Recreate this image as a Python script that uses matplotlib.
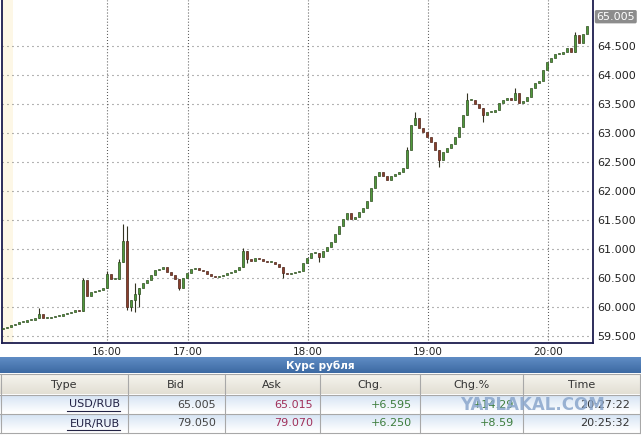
import numpy as np
import matplotlib
matplotlib.use("Agg")
import matplotlib.pyplot as plt

plt.rcParams['lines.scale_dashes'] = False

# USD/RUB closes, one candle per bar slot (open = previous close)
closes = [59.638, 59.655, 59.690, 59.707, 59.741, 59.741, 59.776, 59.776, 59.810, 59.879,
          59.810, 59.810, 59.828, 59.845, 59.845, 59.879, 59.897, 59.914, 59.948, 59.931,
          60.466, 60.190, 60.259, 60.276, 60.293, 60.328, 60.569, 60.483, 60.483, 60.776,
          61.138, 60.000, 60.121, 60.224, 60.328, 60.414, 60.466, 60.552, 60.638, 60.655,
          60.690, 60.603, 60.552, 60.483, 60.328, 60.500, 60.586, 60.655, 60.672, 60.638,
          60.621, 60.569, 60.534, 60.517, 60.534, 60.552, 60.586, 60.603, 60.638, 60.690,
          60.966, 60.828, 60.793, 60.845, 60.828, 60.793, 60.776, 60.776, 60.741, 60.690,
          60.586, 60.569, 60.586, 60.603, 60.621, 60.759, 60.845, 60.931, 60.931, 60.862,
          60.966, 61.034, 61.121, 61.259, 61.397, 61.517, 61.621, 61.517, 61.552, 61.638,
          61.707, 61.828, 62.052, 62.259, 62.328, 62.259, 62.190, 62.259, 62.293, 62.328,
          62.397, 62.707, 63.138, 63.259, 63.086, 63.017, 62.931, 62.845, 62.707, 62.534,
          62.672, 62.741, 62.810, 62.931, 63.103, 63.310, 63.569, 63.569, 63.500, 63.431,
          63.310, 63.362, 63.362, 63.397, 63.517, 63.569, 63.603, 63.569, 63.690, 63.517,
          63.552, 63.621, 63.776, 63.862, 63.897, 64.086, 64.224, 64.293, 64.362, 64.362,
          64.397, 64.466, 64.397, 64.690, 64.552, 64.707, 64.845]
first_open = 59.620

# visible long wicks (bar index -> price)
wick_high = {9: 59.983, 20: 60.500, 26: 60.621, 29: 60.830, 30: 61.431, 31: 61.397,
             33: 60.420, 60: 61.017, 69: 60.740, 101: 62.760, 103: 63.362, 116: 63.690,
             128: 63.776, 143: 64.741}
wick_low = {31: 59.948, 32: 59.930, 33: 59.914, 34: 60.000, 44: 60.300, 61: 60.760,
            70: 60.500, 79: 60.776, 109: 62.414, 120: 63.190}

y_ticks = [59.5, 60.0, 60.5, 61.0, 61.5, 62.0, 62.5, 63.0, 63.5, 64.0, 64.5]
x_tick_labels = ['16:00', '17:00', '18:00', '19:00', '20:00']
x_tick_pos = [26, 46.25, 76.25, 106.25, 136.25]
last_price = 65.005

columns = ['Type', 'Bid', 'Ask', 'Chg.', 'Chg.%', 'Time']
pairs = ['USD/RUB', 'EUR/RUB']
bids = ['65.005', '79.050']
asks = ['65.015', '79.070']
chg = ['+6.595', '+6.250']
chg_pct = ['+14.29', '+8.59']
times = ['20:27:22', '20:25:32']

fig = plt.figure(figsize=(6.41, 4.37), dpi=100)
fig.patch.set_facecolor('white')

# chart
ax = fig.add_axes([2/641, 94/437, 591/641, 343/437])
ax.set_xlim(-0.25, 147.5)
ax.set_ylim(59.379, 65.293)
ax.axvspan(-0.25, 2.5, color='#fdf7e6', zorder=0, lw=0)

for y in y_ticks:
    ax.axhline(y, color='#666666', lw=0.8, ls=(0, (0.7, 2.9)), zorder=1)
for xp in x_tick_pos:
    ax.axvline(xp, color='#555555', lw=0.8, ls=(0, (0.7, 1.5)), zorder=1)

opens = [first_open] + closes[:-1]
for i, (o, c) in enumerate(zip(opens, closes)):
    up = c >= o
    face = '#4f9a3c' if up else '#8a3f2c'
    edge = '#2c4a1c' if up else '#4a2216'
    hi = wick_high.get(i, max(o, c))
    lo = wick_low.get(i, min(o, c))
    if hi > max(o, c) or lo < min(o, c):
        ax.vlines(i, lo, hi, color='#333322', lw=0.8, zorder=2)
    bottom = min(o, c)
    h = max(abs(c - o), 0.012)
    ax.bar(i, h, bottom=bottom, width=0.62, color=face, edgecolor=edge,
           linewidth=0.5, zorder=3)

for side in ['left', 'bottom', 'right']:
    ax.spines[side].set_color('#1c1c4e')
    ax.spines[side].set_linewidth(1.3)
ax.spines['top'].set_visible(False)

ax.yaxis.tick_right()
ax.set_yticks(y_ticks)
ax.set_yticklabels(['%.3f' % v for v in y_ticks])
ax.set_xticks(x_tick_pos)
ax.set_xticklabels(x_tick_labels)
ax.tick_params(axis='y', length=0, pad=3, labelsize=8, labelcolor='#222222')
ax.tick_params(axis='x', length=0, pad=3, labelsize=7.5, labelcolor='#222222')

# last price marker
ax.annotate('%.3f' % last_price, xy=(147.5, last_price), xycoords='data',
            xytext=(2.5, 0), textcoords='offset points', ha='left', va='center',
            fontsize=8, color='white', annotation_clip=False,
            bbox=dict(boxstyle='round,pad=0.15', fc='#8c8c8c', ec='none'))

# table
tab = fig.add_axes([0, 0, 1, 87/437])
tab.set_xlim(0, 641)
tab.set_ylim(437, 350)
tab.axis('off')

band = np.linspace(0, 1, 20).reshape(-1, 1)
tab.imshow(band, extent=(0, 641, 373, 357), aspect='auto',
           cmap=matplotlib.colors.LinearSegmentedColormap.from_list('b', ['#5f8cc4', '#3d6aa3']),
           zorder=1)
tab.text(320, 366, 'Курс рубля', ha='center', va='center', color='white',
         fontsize=7.5, fontweight='bold', zorder=3)

tab.imshow(band, extent=(0, 641, 394, 374), aspect='auto',
           cmap=matplotlib.colors.LinearSegmentedColormap.from_list('h', ['#f6f4ee', '#e2dfd4']),
           zorder=1)
row_cmap = matplotlib.colors.LinearSegmentedColormap.from_list('r', ['#d6e4f4', '#ffffff'])
tab.imshow(band, extent=(0, 641, 413, 395), aspect='auto', cmap=row_cmap, zorder=1)
tab.imshow(band, extent=(0, 641, 432, 414), aspect='auto', cmap=row_cmap, zorder=1)

for yb in [374, 394.5, 413.5, 432.5]:
    tab.plot([0, 640], [yb, yb], color='#a8a8a8', lw=0.8, zorder=2)
for xb in [0.5, 128, 225, 320, 420, 523, 640]:
    tab.plot([xb, xb], [374, 432.5], color='#a8a8a8', lw=0.8, zorder=2)

head_x = [64, 176, 272, 370, 471, 582]
for hx, name in zip(head_x, columns):
    tab.text(hx, 384.5, name, ha='center', va='center', fontsize=8, color='#333333', zorder=3)

right_x = [120, 216, 313, 412, 514, 630]
cols = ['#222244', '#444444', '#a0305a', '#3d7d3d', '#3d7d3d', '#333333']
for r, yc in enumerate([404.5, 423.5]):
    vals = [pairs[r], bids[r], asks[r], chg[r], chg_pct[r], times[r]]
    for j, (rx, v) in enumerate(zip(right_x, vals)):
        tab.text(rx, yc, v, ha='right', va='center', fontsize=8, color=cols[j], zorder=3)
    tab.plot([67, 120], [yc + 6, yc + 6], color='#222244', lw=0.8, zorder=3)

# site watermark over the table
tab.text(533, 405, 'YAPLAKAL.COM', ha='center', va='center', fontsize=12,
         fontweight='bold', color='#8aa6cc', alpha=0.85, zorder=4)

fig.savefig('out.png', dpi=100)
